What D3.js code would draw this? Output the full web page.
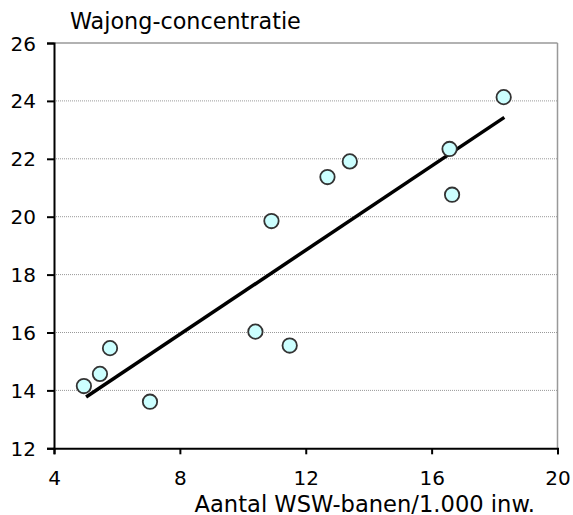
<!DOCTYPE html>
<html><head><meta charset="utf-8">
<script src="https://cdn.jsdelivr.net/npm/d3@7"></script>
<style>body{margin:0;background:#fff}svg{display:block}</style>
</head><body>
<svg id="c" width="573" height="515"></svg>
<script>
const xValues = [4.95, 5.46, 5.78, 7.05, 10.40, 11.49, 10.91, 12.69, 13.40, 16.57, 16.65, 18.29];
const yValues = [14.15, 14.57, 15.46, 13.61, 16.03, 15.55, 19.85, 21.37, 21.91, 22.34, 20.76, 24.13];
const trendX = [5.02, 18.31];
const trendY = [13.77, 23.43];
const xTicks = [4, 8, 12, 16, 20];
const yTicks = [12, 14, 16, 18, 20, 22, 24, 26];
const yTitle = "Wajong-concentratie";
const xTitle = "Aantal WSW-banen/1.000 inw.";

const svg = d3.select("#c");
const m = {left: 54, right: 557.5, top: 43, bottom: 448.3};
const x = d3.scaleLinear().domain([4, 20]).range([m.left, m.right]);
const y = d3.scaleLinear().domain([12, 26]).range([m.bottom, m.top]);
const font = "DejaVu Sans, Verdana, sans-serif";

// gridlines
svg.append("g").selectAll("line").data(yTicks.filter(d => d > 12 && d < 26)).join("line")
  .attr("x1", m.left).attr("x2", m.right)
  .attr("y1", d => y(d)).attr("y2", d => y(d))
  .attr("stroke", "#999").attr("stroke-width", 1).attr("stroke-dasharray", "1,1");
// top & right border
svg.append("line").attr("x1", m.left).attr("x2", m.right).attr("y1", y(26)).attr("y2", y(26))
  .attr("stroke", "#999").attr("stroke-width", 1.5);
svg.append("line").attr("x1", m.right).attr("x2", m.right).attr("y1", m.top).attr("y2", m.bottom)
  .attr("stroke", "#999").attr("stroke-width", 1.5);

// axes
const xAxis = svg.append("g").attr("transform", `translate(0,${m.bottom})`)
  .call(d3.axisBottom(x).tickValues(xTicks).tickSize(6).tickPadding(7));
const yAxis = svg.append("g").attr("transform", `translate(${m.left},0)`)
  .call(d3.axisLeft(y).tickValues(yTicks).tickSize(7).tickPadding(11));
[xAxis, yAxis].forEach(g => {
  g.select(".domain").attr("stroke", "#000").attr("stroke-width", 2);
  g.selectAll(".tick line").attr("stroke", "#000").attr("stroke-width", 2);
  g.selectAll(".tick text").attr("fill", "#000").style("font-family", font).style("font-size", "20px");
});
xAxis.selectAll(".tick text").attr("dy", null).attr("y", 485 - m.bottom);
yAxis.selectAll(".tick text").attr("dy", "0.35em");

// trend line
svg.append("line")
  .attr("x1", x(trendX[0])).attr("y1", y(trendY[0]))
  .attr("x2", x(trendX[1])).attr("y2", y(trendY[1]))
  .attr("stroke", "#000").attr("stroke-width", 3.5);

// points
svg.append("g").selectAll("circle").data(xValues.map((v, i) => [v, yValues[i]])).join("circle")
  .attr("cx", d => x(d[0])).attr("cy", d => y(d[1])).attr("r", 7.2)
  .attr("fill", "#CCFFFF").attr("stroke", "#333").attr("stroke-width", 1.8);

// titles
svg.append("text").attr("x", 70).attr("y", 29).text(yTitle)
  .style("font-family", font).style("font-size", "22.3px").attr("fill", "#000");
svg.append("text").attr("x", 535).attr("y", 511.5).attr("text-anchor", "end").text(xTitle)
  .style("font-family", font).style("font-size", "22.6px").attr("fill", "#000");
</script>
</body></html>
